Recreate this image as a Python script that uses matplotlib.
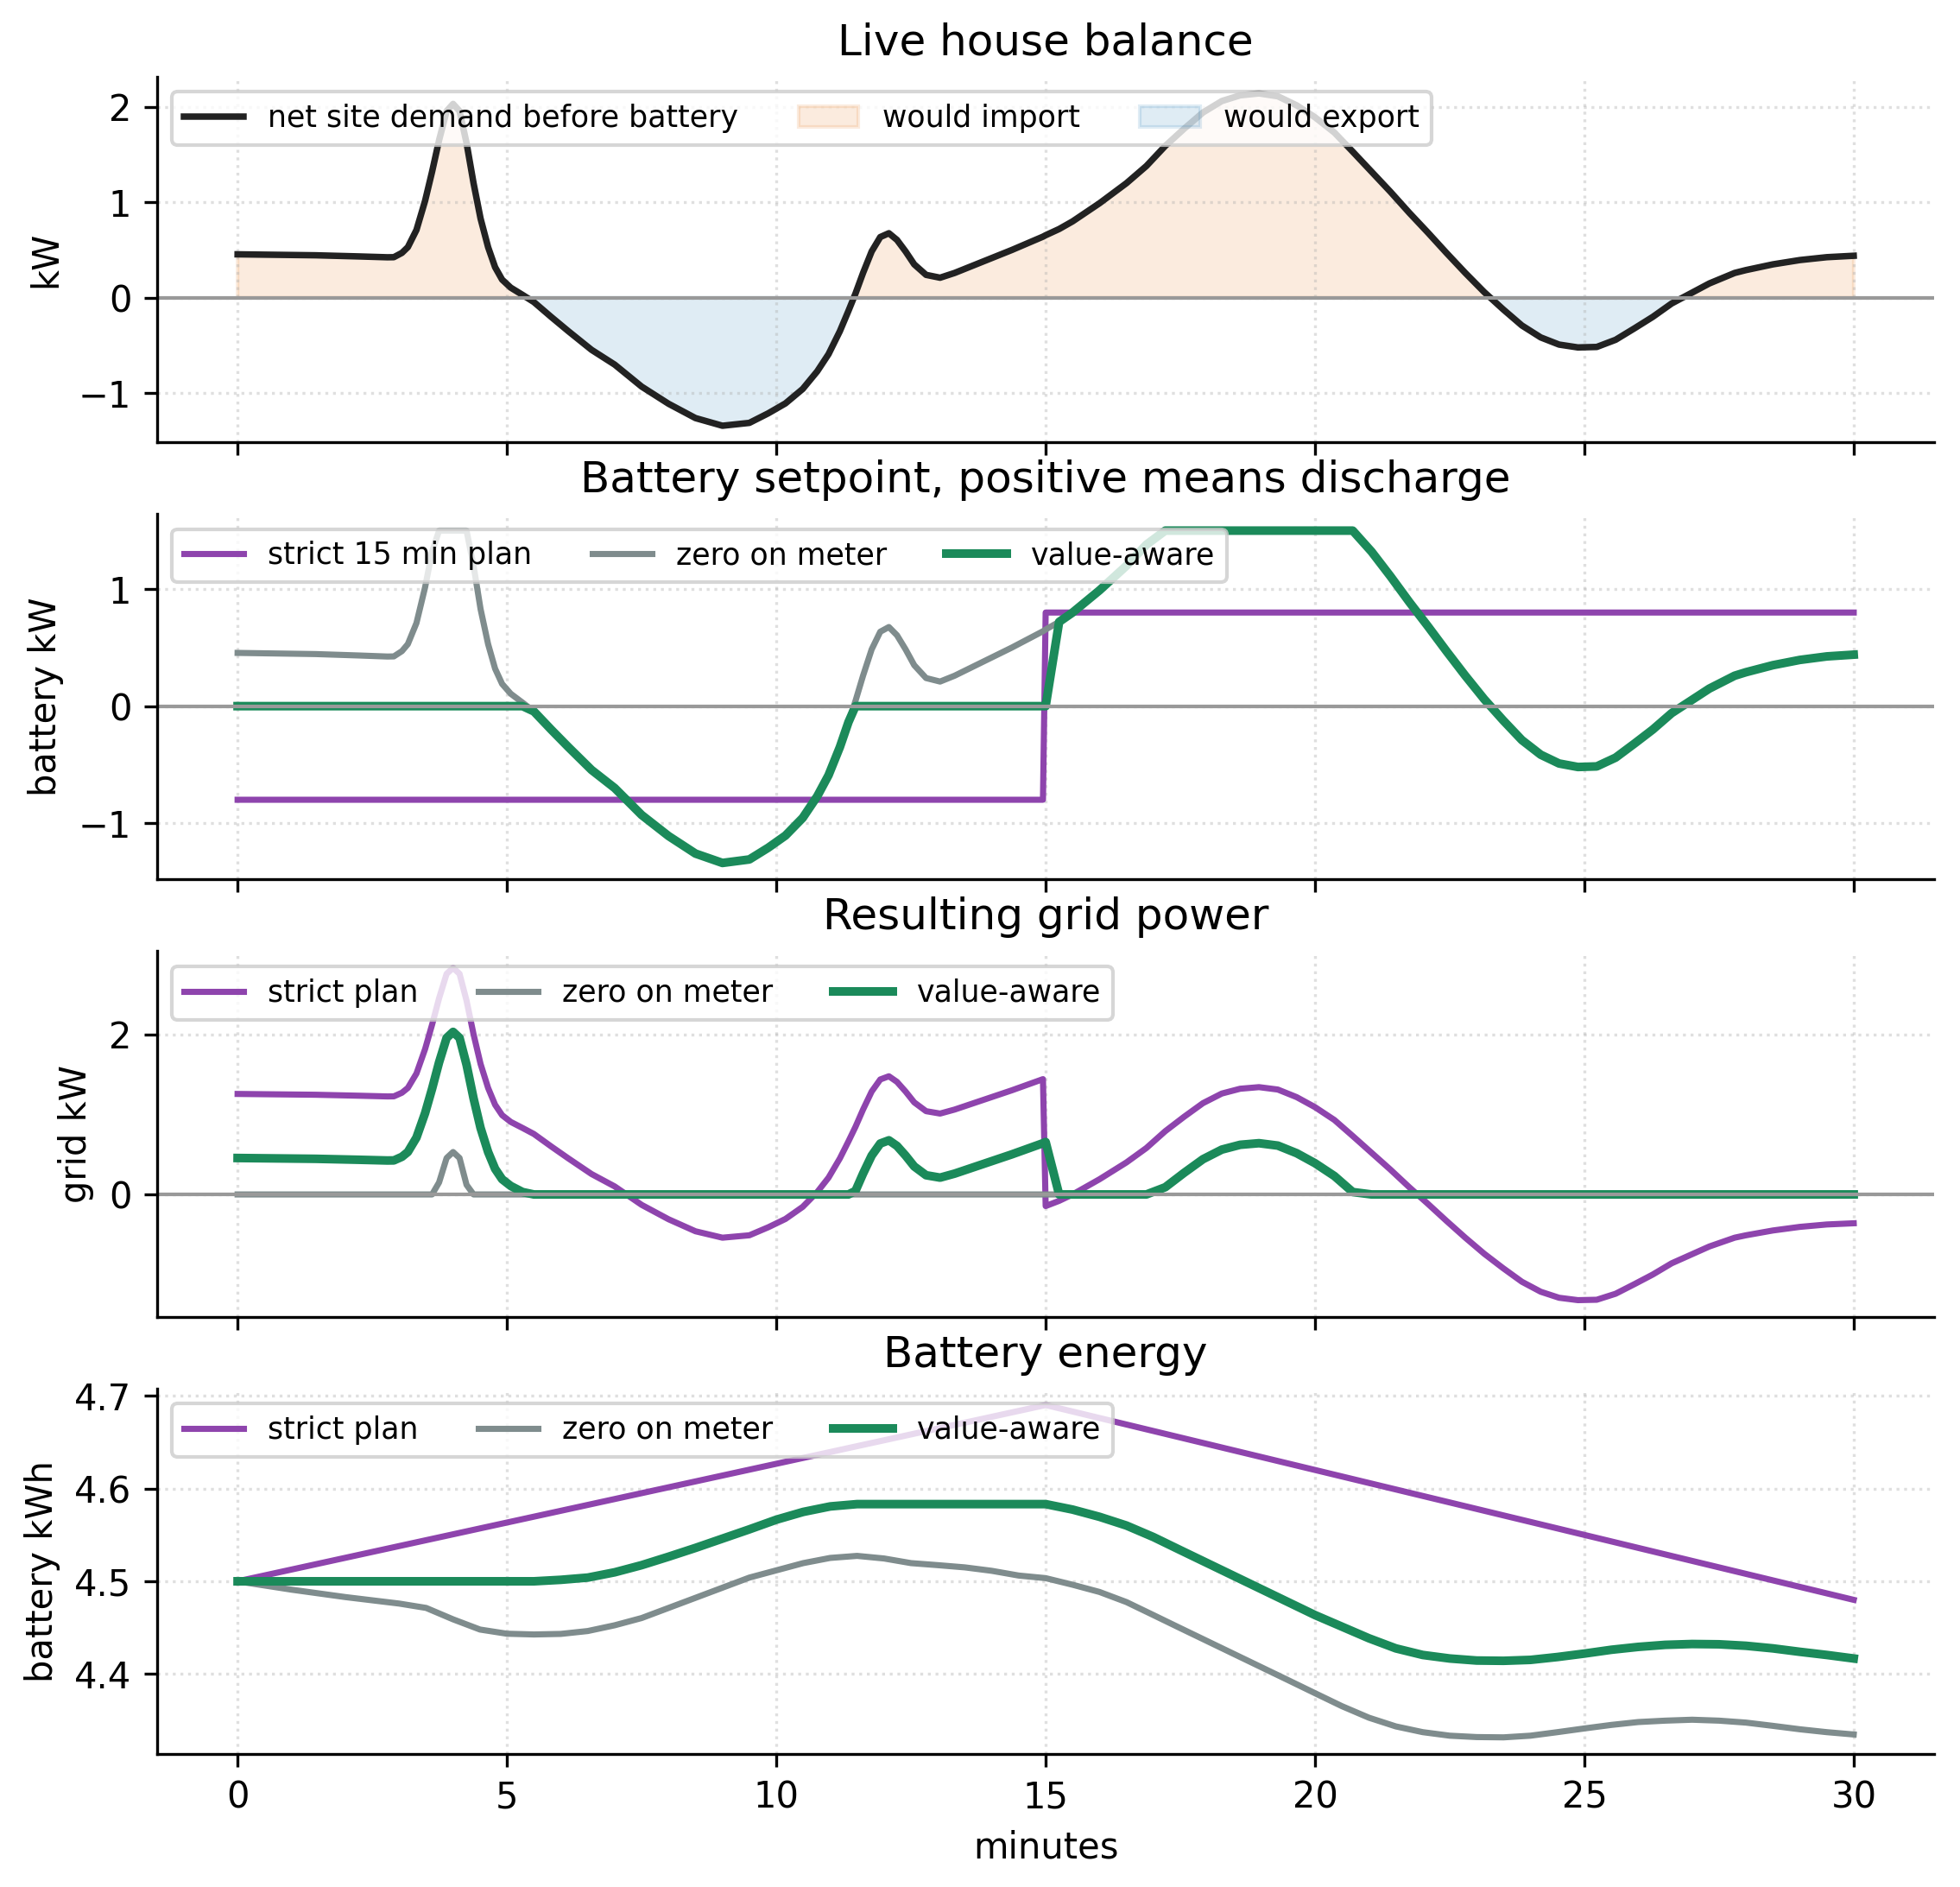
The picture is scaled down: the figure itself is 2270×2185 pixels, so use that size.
import matplotlib

matplotlib.use("Agg")
import matplotlib.pyplot as plt
import numpy as np
from matplotlib.ticker import MaxNLocator

# net site demand before battery (kW)
minutes = [
    0, 1.45, 2.25, 2.78, 2.9, 3.05, 3.16, 3.32, 3.48, 3.61, 3.74, 3.88, 4.0, 4.12,
    4.25, 4.38, 4.51, 4.65, 4.78, 4.91, 5.07, 5.29, 5.5, 5.82, 6.14, 6.57, 7.0, 7.5,
    8.0, 8.5, 9.0, 9.5, 9.85, 10.17, 10.49, 10.76, 10.97, 11.18, 11.34, 11.47,
    11.61, 11.77, 11.93, 12.09, 12.24, 12.4, 12.56, 12.78, 13.04, 13.31, 13.84,
    14.37, 14.95, 15.0, 15.25, 15.5, 16.0, 16.5, 16.87, 17.22, 17.57, 17.92, 18.27,
    18.61, 18.96, 19.31, 19.66, 20.0, 20.36, 20.7, 21.05, 21.4, 21.75, 22.1, 22.44,
    22.79, 23.14, 23.49, 23.84, 24.19, 24.53, 24.88, 25.23, 25.58, 25.93, 26.27,
    26.62, 26.97, 27.32, 27.79, 28.0, 28.5, 29.0, 29.5, 30.0,
]
demand = [
    0.455, 0.445, 0.433, 0.424, 0.425, 0.47, 0.53, 0.71, 1.015, 1.32, 1.65, 1.955,
    2.03, 1.955, 1.62, 1.2, 0.83, 0.53, 0.32, 0.19, 0.106, 0.03, -0.045, -0.2,
    -0.35, -0.545, -0.7, -0.93, -1.11, -1.26, -1.34, -1.31, -1.21, -1.106, -0.955,
    -0.77, -0.59, -0.35, -0.136, 0.045, 0.26, 0.485, 0.636, 0.676, 0.606, 0.485,
    0.35, 0.24, 0.21, 0.26, 0.38, 0.5, 0.64, 0.655, 0.72, 0.8, 0.99, 1.2, 1.38,
    1.59, 1.77, 1.94, 2.06, 2.12, 2.14, 2.11, 2.015, 1.89, 1.73, 1.53, 1.32, 1.11,
    0.89, 0.68, 0.47, 0.26, 0.06, -0.12, -0.29, -0.415, -0.49, -0.52, -0.515,
    -0.44, -0.32, -0.2, -0.06, 0.045, 0.15, 0.26, 0.29, 0.35, 0.395, 0.425, 0.44,
]

BATTERY_LIMIT_KW = 1.5
STRICT_CHARGE_KW = -0.8
STRICT_DISCHARGE_KW = 0.8
PLAN_SWITCH_MIN = 15

# battery energy (kWh)
strict_energy_min = [0, 15, 30]
strict_energy = [4.5, 4.69, 4.48]

meter_energy_min = [
    0, 1, 2, 3, 3.5, 4, 4.5, 5, 5.5, 6, 6.5, 7, 7.5, 8, 8.5, 9, 9.5, 10, 10.5, 11,
    11.5, 12, 12.5, 13, 13.5, 14, 14.5, 15, 15.5, 16, 16.5, 17, 17.5, 18, 18.5, 19,
    19.5, 20, 20.5, 21, 21.5, 22, 22.5, 23, 23.5, 24, 24.5, 25, 25.5, 26, 26.5, 27,
    27.5, 28, 28.5, 29, 29.5, 30,
]
meter_energy = [
    4.5, 4.491, 4.483, 4.476, 4.4713, 4.459, 4.448, 4.4435, 4.4427, 4.4433, 4.4464,
    4.4526, 4.4604, 4.4713, 4.4822, 4.4931, 4.504, 4.5118, 4.5196, 4.5252, 4.5274,
    4.5246, 4.5196, 4.5174, 4.515, 4.5113, 4.5062, 4.5034, 4.4963, 4.4885, 4.4776,
    4.4636, 4.4495, 4.4355, 4.4215, 4.4075, 4.3935, 4.3794, 4.3654, 4.353, 4.3436,
    4.3374, 4.3336, 4.3321, 4.3318, 4.3336, 4.3374, 4.3414, 4.3452, 4.3483, 4.3498,
    4.3508, 4.3498, 4.3477, 4.3442, 4.3405, 4.3374, 4.3349,
]

value_energy_min = [
    0, 5.5, 6, 6.5, 7, 7.5, 8, 8.5, 9, 9.5, 10, 10.5, 11, 11.5, 15, 15.5, 16, 16.5,
    17, 17.5, 18, 18.5, 19, 19.5, 20, 20.5, 21, 21.5, 22, 22.5, 23, 23.5, 24, 24.5,
    25, 25.5, 26, 26.5, 27, 27.5, 28, 28.5, 29, 29.5, 30,
]
value_energy = [
    4.5, 4.5, 4.5016, 4.504, 4.5097, 4.5174, 4.5265, 4.536, 4.546, 4.556, 4.5664,
    4.5748, 4.5807, 4.5832, 4.5832, 4.5773, 4.5695, 4.5601, 4.5477, 4.5336, 4.5196,
    4.5056, 4.4916, 4.4776, 4.4636, 4.4511, 4.4386, 4.4277, 4.4206, 4.4168, 4.4146,
    4.4143, 4.4153, 4.4184, 4.4221, 4.4262, 4.4293, 4.4315, 4.4324, 4.4321, 4.4305,
    4.4277, 4.424, 4.4206, 4.4168,
]

DEMAND_COLOR = "#222222"
STRICT_COLOR = "#8e44ad"
METER_COLOR = "#7f8c8d"
VALUE_COLOR = "#1b8a5a"
ZERO_COLOR = "#999999"

t = np.array(minutes)
d = np.array(demand)

# battery setpoints per strategy (positive = discharge)
strict_bat = np.where(t < PLAN_SWITCH_MIN, STRICT_CHARGE_KW, STRICT_DISCHARGE_KW)
meter_bat = np.clip(d, -BATTERY_LIMIT_KW, BATTERY_LIMIT_KW)
value_bat = np.where(t <= PLAN_SWITCH_MIN, np.minimum(d, 0), meter_bat)

fig, axes = plt.subplots(4, 1, figsize=(2270 / 300, 2185 / 300), dpi=300, sharex=True)
fig.subplots_adjust(left=0.080, right=0.987, top=0.9593, bottom=0.0705, hspace=0.196)

for ax in axes:
    ax.spines["top"].set_visible(False)
    ax.spines["right"].set_visible(False)
    ax.grid(True, linestyle=":", linewidth=0.8, alpha=0.4)

ax = axes[0]
ax.plot(t, d, color=DEMAND_COLOR, lw=1.8, label="net site demand before battery")
ax.fill_between(t, 0, d, where=d >= 0, interpolate=True, color="#e67e22", alpha=0.15,
                label="would import")
ax.fill_between(t, 0, d, where=d <= 0, interpolate=True, color="#2980b9", alpha=0.15,
                label="would export")
ax.axhline(0, color=ZERO_COLOR, lw=1.0)
ax.set_title("Live house balance")
ax.set_ylabel("kW")
ax.legend(loc="upper left", ncol=3, fontsize="small")

ax = axes[1]
ax.plot(t, strict_bat, color=STRICT_COLOR, lw=1.7, label="strict 15 min plan")
ax.plot(t, meter_bat, color=METER_COLOR, lw=1.7, label="zero on meter")
ax.plot(t, value_bat, color=VALUE_COLOR, lw=2.4, label="value-aware")
ax.axhline(0, color=ZERO_COLOR, lw=1.0)
ax.set_title("Battery setpoint, positive means discharge")
ax.set_ylabel("battery kW")
ax.legend(loc="upper left", ncol=3, fontsize="small")

ax = axes[2]
ax.plot(t, d - strict_bat, color=STRICT_COLOR, lw=1.7, label="strict plan")
ax.plot(t, d - meter_bat, color=METER_COLOR, lw=1.7, label="zero on meter")
ax.plot(t, d - value_bat, color=VALUE_COLOR, lw=2.4, label="value-aware")
ax.axhline(0, color=ZERO_COLOR, lw=1.0)
ax.yaxis.set_major_locator(MaxNLocator(nbins=4, steps=[1, 2, 2.5, 5, 10]))
ax.set_title("Resulting grid power")
ax.set_ylabel("grid kW")
ax.legend(loc="upper left", ncol=3, fontsize="small")

ax = axes[3]
ax.plot(strict_energy_min, strict_energy, color=STRICT_COLOR, lw=1.7, label="strict plan")
ax.plot(meter_energy_min, meter_energy, color=METER_COLOR, lw=1.7, label="zero on meter")
ax.plot(value_energy_min, value_energy, color=VALUE_COLOR, lw=2.4, label="value-aware")
ax.set_title("Battery energy")
ax.set_ylabel("battery kWh")
ax.set_xlabel("minutes")
ax.legend(loc="upper left", ncol=3, fontsize="small")

fig.savefig("out.png", dpi=300)
plt.close(fig)
